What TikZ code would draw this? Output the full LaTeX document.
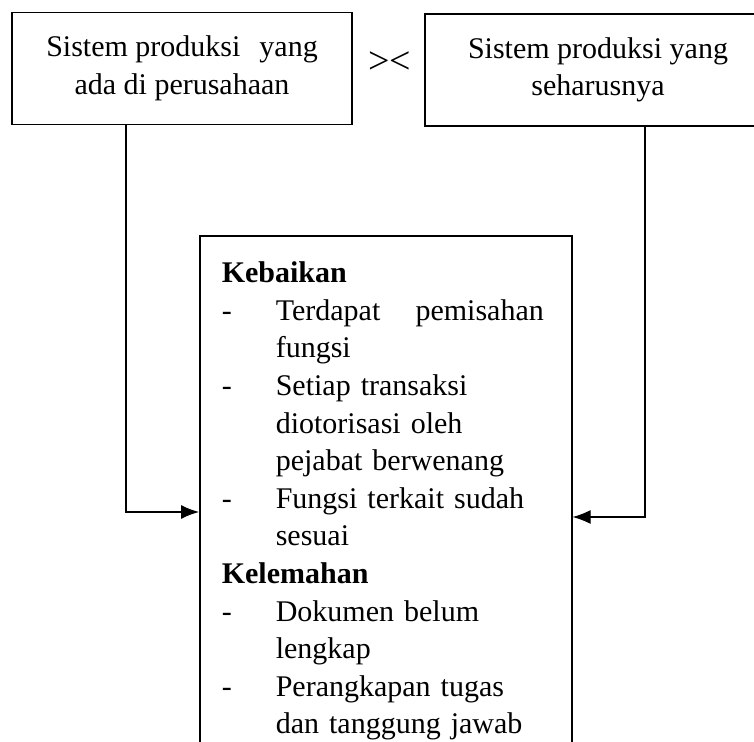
\documentclass[tikz,border=0pt]{standalone}
\usepackage{fontspec}
\setmainfont{Liberation Serif}
\usetikzlibrary{arrows.meta,positioning,calc}
\newcommand{\dashitem}{\makebox[27pt][l]{-}}
\newcommand{\noitem}{\hspace*{27pt}}

\begin{document}
\begin{tikzpicture}[
  x=0.5pt, y=-0.5pt,
  font=\fontsize{15}{18.8}\selectfont,
  >=Latex,
  box/.style={draw, line width=0.8pt, align=center, inner sep=0pt},
  sysbox/.style={box, minimum height=56pt},
  evalbox/.style={draw, line width=0.8pt, align=left, text width=164pt,
    inner xsep=11pt, inner ysep=13pt},
  arrow/.style={-{Latex[length=9pt, width=7pt]}, line width=0.6pt}
]
\clip[use as bounding box] (0,0) rectangle (754,742);
\node[sysbox, minimum width=170pt] (ada) at (182,68.5)
  {Sistem produksi\hspace{9.5pt}yang\\ada di perusahaan};
\node[sysbox, minimum width=173pt] (harus) at (598,70)
  {Sistem produksi yang\\seharusnya};
\node[font=\fontsize{19}{20}\selectfont] (vs) at (389.5,63) {><};
\node[evalbox, anchor=north west] (eval) at (199,235)
  {\textbf{Kebaikan}\\
   \dashitem\makebox[134pt][l]{Terdapat\hfill pemisahan}\\
   \noitem fungsi\\
   \dashitem Setiap transaksi\\
   \noitem diotorisasi oleh\\
   \noitem pejabat berwenang\\
   \dashitem Fungsi terkait sudah\\
   \noitem sesuai\\
   \textbf{Kelemahan}\\
   \dashitem Dokumen belum\\
   \noitem lengkap\\
   \dashitem Perangkapan tugas\\
   \noitem dan tanggung jawab};
\draw[arrow] ([xshift=-28pt]ada.south) |- ($(eval.north west)+(0,277)$);
\draw[arrow] ([xshift=23.5pt]harus.south) |- ($(eval.north east)+(0,282)$);
\end{tikzpicture}
\end{document}
